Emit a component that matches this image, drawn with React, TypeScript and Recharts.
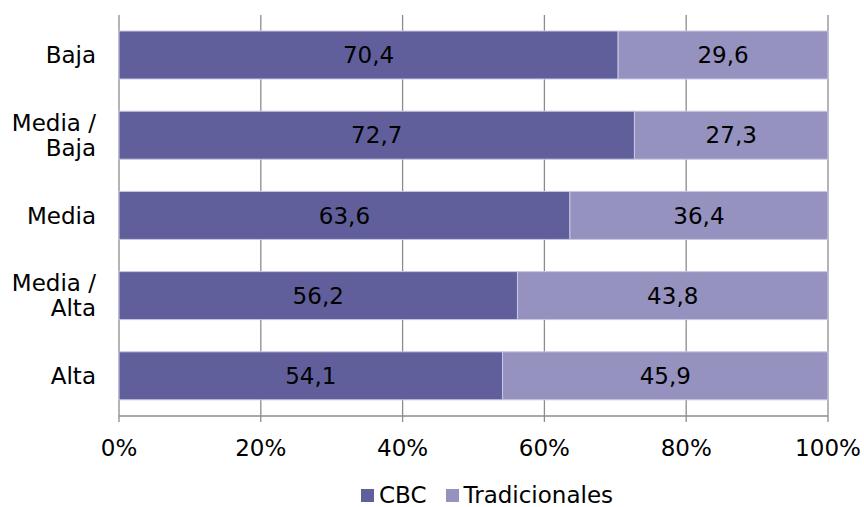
import React from "react";
import {
  BarChart,
  Bar,
  XAxis,
  YAxis,
  CartesianGrid,
  Legend,
  LabelList,
} from "recharts";

const categories = ["Baja", "Media / Baja", "Media", "Media / Alta", "Alta"];
const cbc = [70.4, 72.7, 63.6, 56.2, 54.1];
const tradicionales = [29.6, 27.3, 36.4, 43.8, 45.9];
const xTicks = [0, 20, 40, 60, 80, 100];
const seriesNames = ["CBC", "Tradicionales"];
const seriesColors = ["#615f9b", "#9592bf"];

const data = categories.map((name, i) => ({
  name,
  CBC: cbc[i],
  Tradicionales: tradicionales[i],
}));

const FONT = "Verdana, 'DejaVu Sans', sans-serif";
const FS = 23;

const fmt = (v: any) => String(v).replace(".", ",");

const CategoryTick = (props: any) => {
  const { x, y, payload } = props;
  const parts = String(payload.value).split(" / ");
  const lines = parts.length > 1 ? [parts[0] + " /", parts[1]] : parts;
  const lh = 25;
  const start = -((lines.length - 1) * lh) / 2;
  return (
    <text x={x} y={y} textAnchor="end" fontFamily={FONT} fontSize={FS} fill="#000">
      {lines.map((l, i) => (
        <tspan key={i} x={x} dy={i === 0 ? start + 8 : lh}>
          {l}
        </tspan>
      ))}
    </text>
  );
};

// legend sits a bit right of centre in the original
const LegendContent = () => (
  <div
    style={{
      height: 31,
      display: "flex",
      justifyContent: "flex-start",
      alignItems: "flex-end",
      paddingLeft: 361,
      fontFamily: FONT,
      fontSize: FS,
      color: "#000",
      lineHeight: "23px",
    }}
  >
    {seriesNames.map((n, i) => (
      <span
        key={n}
        style={{ display: "flex", alignItems: "center", marginRight: i === 0 ? 19 : 0 }}
      >
        <span
          style={{
            width: 13,
            height: 13,
            background: seriesColors[i],
            display: "inline-block",
            marginRight: 5,
          }}
        />
        {n}
      </span>
    ))}
  </div>
);

const App = () => (
  <div style={{ position: "absolute", left: 0, top: 0 }}>
    <BarChart
      width={864}
      height={507}
      data={data}
      layout="vertical"
      barSize={48}
      margin={{ top: 15, right: 36, left: 0, bottom: 0 }}
    >
      <CartesianGrid horizontal={false} stroke="#8c8c8c" strokeWidth={1.3} />
      <XAxis
        type="number"
        domain={[0, 100]}
        ticks={xTicks}
        tickFormatter={(v) => `${v}%`}
        axisLine={{ stroke: "#8c8c8c", strokeWidth: 1.3 }}
        tickLine={{ stroke: "#8c8c8c", strokeWidth: 1.3 }}
        tickSize={6}
        tickMargin={18}
        tick={{ fontFamily: FONT, fontSize: FS, fill: "#000" }}
        height={60}
        interval={0}
      />
      <YAxis
        type="category"
        dataKey="name"
        width={119}
        axisLine={false}
        tickLine={false}
        tick={<CategoryTick />}
        tickMargin={17}
        interval={0}
      />
      <Legend
        verticalAlign="bottom"
        content={<LegendContent />}
        wrapperStyle={{ height: 31, bottom: 0, left: 0, width: 864 }}
      />
      <Bar
        dataKey="CBC"
        stackId="a"
        fill={seriesColors[0]}
        stroke="#c9c7e3"
        strokeWidth={1}
        isAnimationActive={false}
      >
        <LabelList
          dataKey="CBC"
          position="center"
          formatter={fmt}
          style={{ fontFamily: FONT, fontSize: FS, fill: "#000" }}
        />
      </Bar>
      <Bar
        dataKey="Tradicionales"
        stackId="a"
        fill={seriesColors[1]}
        stroke="#c9c7e3"
        strokeWidth={1}
        isAnimationActive={false}
      >
        <LabelList
          dataKey="Tradicionales"
          position="center"
          formatter={fmt}
          style={{ fontFamily: FONT, fontSize: FS, fill: "#000" }}
        />
      </Bar>
    </BarChart>
  </div>
);

export default App;
